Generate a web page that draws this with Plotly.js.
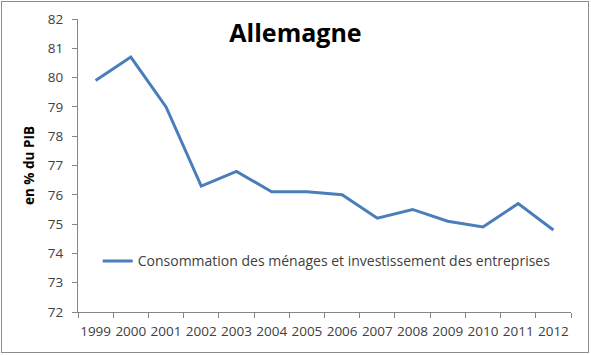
<!DOCTYPE html>
<html><head><meta charset="utf-8">
<script src="https://cdn.plot.ly/plotly-3.0.1.min.js"></script>
<style>html,body{margin:0;padding:0;background:#fff;}#wrap{position:relative;width:591px;height:355px;}#frame{position:absolute;left:1px;top:1px;width:586px;height:350px;border:1px solid #8c8c8c;pointer-events:none;}</style>
</head><body><div id="wrap"><div id="chart" style="width:591px;height:355px;"></div><div id="frame"></div></div>
<script>
const years = ['1999','2000','2001','2002','2003','2004','2005','2006','2007','2008','2009','2010','2011','2012'];
const values = [79.9,80.7,79.0,76.3,76.8,76.1,76.1,76.0,75.2,75.5,75.1,74.9,75.7,74.8];
const seriesName = 'Consommation des ménages et investissement des entreprises';
const titleText = 'Allemagne';
const yTitle = 'en % du PIB';

const font = 'Open Sans, sans-serif';
Plotly.newPlot('chart', [{
  x: years, y: values, type: 'scatter', mode: 'lines', name: seriesName,
  line: {color: '#4a7ebb', width: 3}
}], {
  width: 591, height: 355,
  margin: {l: 78, r: 20, t: 18.5, b: 43.3},
  paper_bgcolor: '#fff', plot_bgcolor: '#fff',
  showlegend: true,
  legend: {x: 0.04, y: 0.173, xanchor: 'left', yanchor: 'middle', bgcolor: 'rgba(0,0,0,0)',
    font: {family: font, size: 14, color: '#404040'}},
  title: {text: '<b>' + titleText + '</b>', x: 0.5, xref: 'container', xanchor: 'center', y: 0.905, yanchor: 'middle',
    font: {family: font, size: 25, color: '#000'}},
  xaxis: {type: 'category', range: [-0.5, 13.5], tickson: 'boundaries', ticks: 'outside', ticklen: 5, tickcolor: '#868686',
    tickangle: 0, ticklabelstandoff: 7, showline: true, linecolor: '#868686', linewidth: 1, showgrid: false, zeroline: false,
    tickfont: {family: font, size: 13.5, color: '#404040'}, fixedrange: true},
  yaxis: {range: [72, 82], dtick: 1, ticks: 'outside', ticklen: 5, tickcolor: '#868686', ticklabelstandoff: 6,
    showline: true, linecolor: '#868686', linewidth: 1, showgrid: false, zeroline: false,
    tickfont: {family: font, size: 13.5, color: '#404040'},
    title: {text: '<b>' + yTitle + '</b>', font: {family: font, size: 13.5, color: '#000'}, standoff: 10}}
}, {displayModeBar: false, staticPlot: true});
</script></body></html>
